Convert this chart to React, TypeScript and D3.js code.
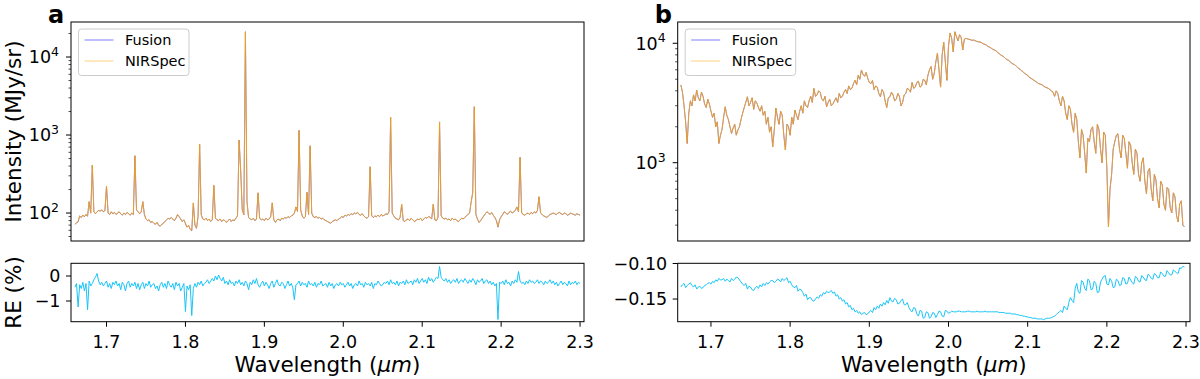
import React from "react";
import * as d3 from "d3";

// spectra are sampled on a regular wavelength grid (um)
const waveStep = 0.002;
const waveStartA = 1.66;
const waveStartB = 1.662;

const seriesNames = ["Fusion", "NIRSpec"];
const xTicks = [1.7, 1.8, 1.9, 2.0, 2.1, 2.2, 2.3];
const reTicksA = [0, -1];
const reTicksB = [-0.1, -0.15];

// panel a: NIRSpec intensity (MJy/sr)
const nirspecA = [
  72, 75, 78, 92, 88, 94, 90, 96, 92, 140,
  100, 412, 104, 98, 104, 108, 106, 110, 104, 108,
  222, 100, 96, 104, 98, 102, 96, 100, 104, 98,
  94, 100, 96, 102, 98, 94, 100, 96, 543, 110,
  104, 98, 104, 140, 96, 84, 80, 82, 76, 78,
  74, 72, 76, 70, 68, 72, 74, 78, 82, 86,
  84, 88, 84, 80, 86, 96, 90, 84, 78, 82,
  74, 66, 70, 62, 60, 135, 70, 64, 90, 760,
  95, 84, 82, 86, 80, 84, 78, 82, 226, 86,
  82, 80, 84, 78, 82, 80, 76, 80, 84, 78,
  82, 80, 86, 92, 863, 355, 110, 95, 21100, 140,
  88, 84, 82, 86, 80, 84, 182, 86, 82, 84,
  80, 86, 82, 84, 90, 135, 82, 76, 82, 84,
  80, 86, 84, 88, 86, 90, 88, 92, 94, 100,
  120, 105, 1150, 110, 92, 86, 90, 185, 96, 730,
  100, 90, 88, 90, 86, 88, 84, 86, 82, 80,
  78, 76, 74, 78, 80, 82, 80, 84, 86, 90,
  88, 94, 92, 96, 94, 98, 96, 100, 98, 102,
  96, 94, 98, 92, 88, 86, 90, 393, 92, 88,
  92, 90, 94, 90, 96, 92, 94, 98, 96, 104,
  1687, 100, 92, 86, 84, 82, 88, 129, 80, 78,
  82, 84, 80, 86, 82, 78, 80, 84, 82, 86,
  80, 84, 88, 86, 90, 88, 84, 130, 82, 80,
  88, 1468, 92, 86, 84, 86, 82, 84, 80, 86,
  82, 84, 80, 78, 82, 86, 84, 88, 92, 96,
  100, 138, 182, 2306, 96, 84, 76, 80, 86, 92,
  98, 104, 100, 96, 102, 94, 88, 80, 67, 82,
  90, 96, 104, 100, 96, 102, 106, 100, 104, 108,
  120, 104, 518, 100, 96, 94, 98, 100, 96, 102,
  98, 104, 100, 108, 162, 100, 96, 92, 90, 88,
  92, 96, 98, 100, 98, 96, 100, 102, 98, 96,
  100, 98, 94, 96, 100, 98, 96, 94, 98, 96,
  94,
];

// panel a: relative error (%)
const reA = [
  -0.45, -0.3, -1.24, -0.35, -0.5, -0.25, -0.6, -0.3, -1.35, -0.2,
  -0.4, -0.3, -0.15, -0.05, 0.1, -0.2, -0.35, -0.25, -0.4, -0.3,
  -0.2, -0.45, -0.3, -0.5, -0.25, -0.35, -0.2, -0.4, -0.3, -0.55,
  -0.25, -0.35, -0.6, -0.3, -0.2, -0.45, -0.3, -0.4, -0.25, -0.5,
  -0.3, -0.55, -0.35, -0.25, -0.5, -0.3, -0.4, -0.2, -0.45, -0.35,
  -0.3, -0.5, -0.4, -0.6, -0.35, -0.25, -0.45, -0.3, -0.5, -0.2,
  -0.35, -0.45, -0.3, -0.55, -0.25, -0.4, -0.3, -0.6, -0.45, -0.3,
  -1.42, -0.4, -0.55, -0.35, -1.58, -0.5, -0.3, -0.45, -0.25, -0.35,
  -0.2, -0.4, -0.3, -0.25, -0.15, -0.3, -0.2, -0.1, -0.2, 0.0,
  -0.15, 0.04, -0.1, -0.2, -0.05, -0.3, -0.2, -0.35, -0.15, -0.3,
  -0.25, -0.4, -0.2, -0.3, -0.15, -0.35, -0.25, -0.4, -0.2, -0.3,
  -0.55, -0.25, -0.35, -0.15, -0.3, -0.1, -0.35, -0.45, -0.3, -0.2,
  -0.4, -0.25, -0.35, -0.5, -0.3, -0.2, -0.45, -0.3, -0.15, -0.35,
  -0.4, -0.25, -0.3, -0.5, -0.35, -0.2, -0.4, -0.3, -0.45, -0.95,
  -0.35, -0.3, -0.2, -0.4, -0.25, -0.35, -0.3, -0.45, -0.2, -0.35,
  -0.3, -0.4, -0.25, -0.45, -0.3, -0.35, -0.2, -0.4, -0.35, -0.3,
  -0.45, -0.25, -0.4, -0.3, -0.5, -0.35, -0.3, -0.4, -0.25, -0.35,
  -0.3, -0.45, -0.35, -0.25, -0.4, -0.3, -0.5, -0.35, -0.3, -0.4,
  -0.2, -0.35, -0.3, -0.45, -0.25, -0.35, -0.3, -0.4, -0.25, -0.5,
  -0.3, -0.35, -0.2, -0.3, -0.4, -0.35, -0.25, -0.3, -0.2, -0.35,
  -0.15, -0.3, -0.25, -0.35, -0.2, -0.4, -0.25, -0.3, -0.2, -0.35,
  -0.15, -0.3, -0.25, -0.2, -0.35, -0.15, -0.25, -0.1, -0.3, -0.2,
  -0.1, -0.25, -0.15, -0.3, -0.05, -0.2, -0.1, -0.25, -0.15, -0.05,
  -0.1, 0.38, -0.05, -0.15, -0.2, -0.1, -0.25, -0.15, -0.3, -0.2,
  -0.15, -0.25, -0.1, -0.3, -0.2, -0.15, -0.25, -0.1, -0.2, -0.3,
  -0.15, -0.25, -0.1, -0.2, -0.35, -0.15, -0.25, -0.2, -0.1, -0.3,
  -0.2, -0.15, -0.3, -0.2, -0.35, -0.25, -0.4, -0.3, -1.74, -0.25,
  -0.3, -0.2, -0.35, -0.15, -0.3, -0.25, -0.4, -0.2, -0.3, -0.15,
  -0.25, 0.18, -0.2, -0.3, -0.25, -0.35, -0.2, -0.3, -0.15, -0.25,
  -0.2, -0.3, -0.25, -0.15, -0.3, -0.2, -0.25, -0.35, -0.2, -0.3,
  -0.25, -0.15, -0.3, -0.2, -0.35, -0.25, -0.4, -0.3, -0.2, -0.35,
  -0.25, -0.3, -0.4, -0.2, -0.35, -0.25, -0.3, -0.2, -0.35, -0.25,
  -0.3,
];

// panel b: NIRSpec intensity (MJy/sr)
const nirspecB = [
  4480, 3900, 3000, 2200, 1450, 2600, 3300, 3000, 3700, 3300,
  4060, 3500, 3300, 3900, 3600, 3100, 2900, 3400, 3100, 2700,
  2400, 2600, 2000, 2200, 1450, 1700, 1900, 2400, 2940, 2500,
  2300, 2000, 1760, 1950, 2100, 1700, 1880, 2000, 2300, 2600,
  2900, 3200, 3570, 3000, 3200, 3500, 2800, 3300, 3160, 2900,
  2700, 3000, 2500, 2700, 2100, 2400, 1800, 2000, 1360, 1900,
  2870, 2400, 2100, 2700, 2500, 1700, 1280, 2100, 2000, 1700,
  2400, 2100, 2760, 2500, 2300, 2700, 3000, 2600, 3300, 3000,
  2900, 3300, 3600, 3200, 4190, 3600, 3700, 4000, 3900, 3400,
  3300, 3600, 2940, 3200, 3400, 3000, 3100, 3300, 3500, 3200,
  3800, 3500, 3600, 3900, 4100, 3800, 4400, 4100, 4200, 4600,
  4900, 4500, 5400, 5000, 5980, 5500, 5300, 5700, 5100, 4700,
  4600, 4900, 4100, 4400, 4300, 3800, 3570, 4100, 3900, 3300,
  2900, 3500, 3570, 3900, 3700, 3300, 3400, 3800, 3600, 3000,
  3200, 3700, 3800, 4200, 4100, 3900, 4700, 4200, 4300, 4700,
  4800, 4300, 4400, 5000, 4900, 4500, 5400, 6000, 6400, 5000,
  5600, 7000, 8250, 6000, 4300, 8000, 10200, 7000, 4900, 9500,
  12200, 11000, 8500, 12500, 11400, 10500, 11800, 11200, 8800, 10800,
  11000, 10900, 10800, 10700, 10600, 10650, 10500, 10350, 10300, 10250,
  10100, 9900, 9800, 9650, 9400, 9300, 9100, 8900, 8800, 8650,
  8400, 8200, 8000, 7850, 7700, 7450, 7300, 7200, 7000, 6800,
  6700, 6600, 6400, 6200, 6100, 5900, 5800, 5600, 5500, 5400,
  5200, 5100, 5000, 4900, 4800, 4700, 4600, 4550, 4500, 4400,
  4300, 4250, 4200, 4100, 4000, 3900, 3600, 4000, 3800, 3300,
  3000, 3600, 3300, 2600, 2300, 3000, 2800, 2100, 1800, 2600,
  2300, 1500, 1100, 1900, 1700, 1200, 820, 1600, 1500, 1900,
  2000, 1500, 1200, 2100, 1900, 1300, 1000, 1800, 1700, 900,
  290, 600, 800, 1300, 1500, 1700, 1750, 1300, 1100, 1700,
  1600, 1200, 900, 1500, 1400, 1000, 800, 1300, 1200, 800,
  700, 1000, 1100, 700, 550, 850, 900, 600, 480, 800,
  720, 500, 420, 700, 650, 450, 400, 620, 600, 420,
  380, 560, 520, 360, 320, 450, 480, 300, 290,
];

// panel b: relative error (%)
const reB = [
  -0.133, -0.13, -0.128, -0.134, -0.131, -0.129, -0.127, -0.131, -0.133, -0.13,
  -0.136, -0.133, -0.132, -0.135, -0.134, -0.131, -0.13, -0.128, -0.127, -0.129,
  -0.125, -0.127, -0.123, -0.125, -0.121, -0.123, -0.123, -0.121, -0.125, -0.122,
  -0.124, -0.126, -0.121, -0.124, -0.122, -0.119, -0.12, -0.123, -0.126, -0.129,
  -0.131, -0.128, -0.136, -0.132, -0.133, -0.137, -0.138, -0.134, -0.132, -0.135,
  -0.13, -0.133, -0.128, -0.131, -0.127, -0.129, -0.126, -0.124, -0.124, -0.127,
  -0.125, -0.122, -0.123, -0.126, -0.121, -0.124, -0.122, -0.12, -0.127, -0.125,
  -0.13, -0.133, -0.134, -0.131, -0.139, -0.136, -0.137, -0.141, -0.146, -0.143,
  -0.151, -0.148, -0.148, -0.152, -0.153, -0.15, -0.147, -0.149, -0.144, -0.146,
  -0.141, -0.143, -0.139, -0.141, -0.14, -0.138, -0.142, -0.14, -0.146, -0.144,
  -0.15, -0.148, -0.153, -0.151, -0.157, -0.155, -0.161, -0.159, -0.165, -0.163,
  -0.168, -0.166, -0.17, -0.168, -0.172, -0.17, -0.169, -0.172, -0.171, -0.168,
  -0.166, -0.169, -0.162, -0.165, -0.16, -0.163, -0.157, -0.16, -0.155, -0.158,
  -0.152, -0.156, -0.148, -0.153, -0.154, -0.149, -0.151, -0.157, -0.156, -0.152,
  -0.15, -0.158, -0.158, -0.155, -0.162, -0.166, -0.168, -0.162, -0.163, -0.171,
  -0.174, -0.166, -0.167, -0.177, -0.176, -0.168, -0.169, -0.177, -0.175, -0.169,
  -0.17, -0.176, -0.172, -0.167, -0.168, -0.174, -0.175, -0.166, -0.167, -0.17,
  -0.169, -0.167, -0.168, -0.168, -0.168, -0.167, -0.167, -0.168, -0.168, -0.168,
  -0.168, -0.167, -0.167, -0.168, -0.168, -0.168, -0.168, -0.167, -0.168, -0.168,
  -0.168, -0.168, -0.167, -0.168, -0.168, -0.168, -0.168, -0.168, -0.168, -0.168,
  -0.168, -0.169, -0.169, -0.169, -0.169, -0.17, -0.17, -0.17, -0.17, -0.171,
  -0.171, -0.171, -0.172, -0.172, -0.173, -0.173, -0.174, -0.174, -0.175, -0.175,
  -0.176, -0.176, -0.177, -0.177, -0.177, -0.178, -0.178, -0.178, -0.178, -0.179,
  -0.178, -0.177, -0.177, -0.177, -0.176, -0.175, -0.174, -0.172, -0.17, -0.168,
  -0.166, -0.169, -0.16, -0.163, -0.165, -0.155, -0.148, -0.152, -0.155, -0.135,
  -0.128, -0.14, -0.142, -0.124, -0.126, -0.135, -0.138, -0.122, -0.124, -0.137,
  -0.136, -0.125, -0.128, -0.141, -0.14, -0.126, -0.122, -0.118, -0.117, -0.129,
  -0.13, -0.121, -0.125, -0.134, -0.133, -0.122, -0.124, -0.131, -0.13, -0.12,
  -0.121, -0.129, -0.128, -0.119, -0.123, -0.127, -0.129, -0.118, -0.12, -0.125,
  -0.126, -0.117, -0.119, -0.123, -0.124, -0.115, -0.117, -0.121, -0.122, -0.114,
  -0.116, -0.12, -0.12, -0.112, -0.114, -0.118, -0.118, -0.11, -0.113, -0.116,
  -0.116, -0.109, -0.111, -0.113, -0.114, -0.106, -0.107, -0.104, -0.105,
];

const FONT = "DejaVu Sans, Verdana, sans-serif";
const TOP = { y0: 22, y1: 241 };
const BOT = { y0: 263.3, y1: 321.7 };
const FUSION = "blue";
const NIR = "orange";
const RE_COLOR = "#18c4f8";

const fmtMinus = (v: number, digits: number) =>
  (v < 0 ? "\u2212" : "") + Math.abs(v).toFixed(digits);

const panels = [
  {
    label: "a",
    left: 71,
    right: 584,
    xDomain: [1.655, 2.305],
    specDomain: [43.8, 28100],
    reDomain: [-1.828, 0.508],
    start: waveStartA,
    nir: nirspecA,
    re: reA,
    reTicks: reTicksA,
    reDigits: 0,
    yLabel: true,
  },
  {
    label: "b",
    left: 677.7,
    right: 1190,
    xDomain: [1.658, 2.305],
    specDomain: [221, 15070],
    reDomain: [-0.1819, -0.0997],
    start: waveStartB,
    nir: nirspecB,
    re: reB,
    reTicks: reTicksB,
    reDigits: 2,
    yLabel: false,
  },
];

function Panel({ p, idx }: { p: any; idx: number }) {
  const x = d3.scaleLinear().domain(p.xDomain).range([p.left, p.right]);
  const yS = d3.scaleLog().domain(p.specDomain).range([TOP.y1, TOP.y0]);
  const yR = d3.scaleLinear().domain(p.reDomain).range([BOT.y1, BOT.y0]);

  const n = Math.min(p.nir.length, p.re.length);
  // Fusion follows from NIRSpec and the relative error between them
  const pts = d3.range(n).map((i) => ({
    w: p.start + i * waveStep,
    nir: p.nir[i],
    fusion: p.nir[i] * (1 + p.re[i] / 100),
    re: p.re[i],
  }));

  const lineNir = d3.line<any>().x((d) => x(d.w)).y((d) => yS(d.nir));
  const lineFus = d3.line<any>().x((d) => x(d.w)).y((d) => yS(d.fusion));
  const lineRe = d3.line<any>().x((d) => x(d.w)).y((d) => yR(d.re));

  const logTicks = yS.ticks();
  const isMajor = (t: number) => Math.abs(Math.log10(t) - Math.round(Math.log10(t))) < 1e-9;

  const w = p.right - p.left;
  const cx = (p.left + p.right) / 2;
  const clipTop = `clipTop${idx}`;
  const clipBot = `clipBot${idx}`;

  return (
    <g fontFamily={FONT}>
      <defs>
        <clipPath id={clipTop}>
          <rect x={p.left} y={TOP.y0} width={w} height={TOP.y1 - TOP.y0} />
        </clipPath>
        <clipPath id={clipBot}>
          <rect x={p.left} y={BOT.y0} width={w} height={BOT.y1 - BOT.y0} />
        </clipPath>
      </defs>

      {/* spectra */}
      <g clipPath={`url(#${clipTop})`}>
        <path d={lineFus(pts) || ""} fill="none" stroke={FUSION} strokeOpacity={0.5} strokeWidth={1} />
        <path d={lineNir(pts) || ""} fill="none" stroke={NIR} strokeOpacity={0.8} strokeWidth={1} />
      </g>

      {/* relative error */}
      <g clipPath={`url(#${clipBot})`}>
        <path d={lineRe(pts) || ""} fill="none" stroke={RE_COLOR} strokeWidth={1} />
      </g>

      {/* frames */}
      <rect x={p.left} y={TOP.y0} width={w} height={TOP.y1 - TOP.y0} fill="none" stroke="#000" strokeWidth={1} />
      <rect x={p.left} y={BOT.y0} width={w} height={BOT.y1 - BOT.y0} fill="none" stroke="#000" strokeWidth={1} />

      {/* log y axis */}
      {logTicks.map((t) => {
        const y = yS(t);
        const major = isMajor(t);
        return (
          <g key={"l" + t}>
            <line x1={p.left - (major ? 5 : 2.5)} x2={p.left} y1={y} y2={y} stroke="#000" strokeWidth={major ? 1 : 0.7} />
            {major && (
              <text x={p.left - 12} y={y + 6.3} textAnchor="end" fontSize={17.5}>
                <tspan>10</tspan>
                <tspan dy={-7.5} fontSize={12.5}>{Math.round(Math.log10(t))}</tspan>
              </text>
            )}
          </g>
        );
      })}

      {/* RE y axis */}
      {p.reTicks.map((t: number) => (
        <g key={"r" + t}>
          <line x1={p.left - 5} x2={p.left} y1={yR(t)} y2={yR(t)} stroke="#000" strokeWidth={1} />
          <text x={p.left - 10.5} y={yR(t) + 6.3} textAnchor="end" fontSize={17.5}>
            {fmtMinus(t, p.reDigits)}
          </text>
        </g>
      ))}

      {/* x axis */}
      {xTicks.map((t) => (
        <g key={"x" + t}>
          <line x1={x(t)} x2={x(t)} y1={BOT.y1} y2={BOT.y1 + 5} stroke="#000" strokeWidth={1} />
          <text x={x(t)} y={BOT.y1 + 26.5} textAnchor="middle" fontSize={17.5}>
            {t.toFixed(1)}
          </text>
        </g>
      ))}
      <text x={cx} y={372} textAnchor="middle" fontSize={21.5}>
        Wavelength (<tspan fontStyle="italic">μm</tspan>)
      </text>

      {p.yLabel && (
        <>
          <text transform={`translate(21,${(TOP.y0 + TOP.y1) / 2}) rotate(-90)`} textAnchor="middle" fontSize={21.5}>
            Intensity (MJy/sr)
          </text>
          <text transform={`translate(21,${(BOT.y0 + BOT.y1) / 2}) rotate(-90)`} textAnchor="middle" fontSize={21.5}>
            RE (%)
          </text>
        </>
      )}

      {/* panel letter */}
      <text x={p.left - 23} y={23} fontSize={24} fontWeight="bold">
        {p.label}
      </text>

      {/* legend */}
      <g transform={`translate(${p.left + 7.5},${TOP.y0 + 7})`}>
        <rect width={110.5} height={46.5} rx={3} fill="#fff" fillOpacity={0.8} stroke="#ccc" strokeWidth={1} />
        {seriesNames.map((s, i) => (
          <g key={s} transform={`translate(0,${11 + i * 21})`}>
            <line x1={6} x2={35} y1={0} y2={0} stroke={i === 0 ? FUSION : NIR} strokeOpacity={0.5} strokeWidth={1} />
            <text x={46.5} y={5} fontSize={14.5}>
              {s}
            </text>
          </g>
        ))}
      </g>
    </g>
  );
}

export default function App() {
  return (
    <svg
      width={1200}
      height={379}
      viewBox="0 0 1200 379"
      style={{ position: "absolute", left: 0, top: 0, background: "#fff" }}
    >
      {panels.map((p, i) => (
        <Panel key={p.label} p={p} idx={i} />
      ))}
    </svg>
  );
}
